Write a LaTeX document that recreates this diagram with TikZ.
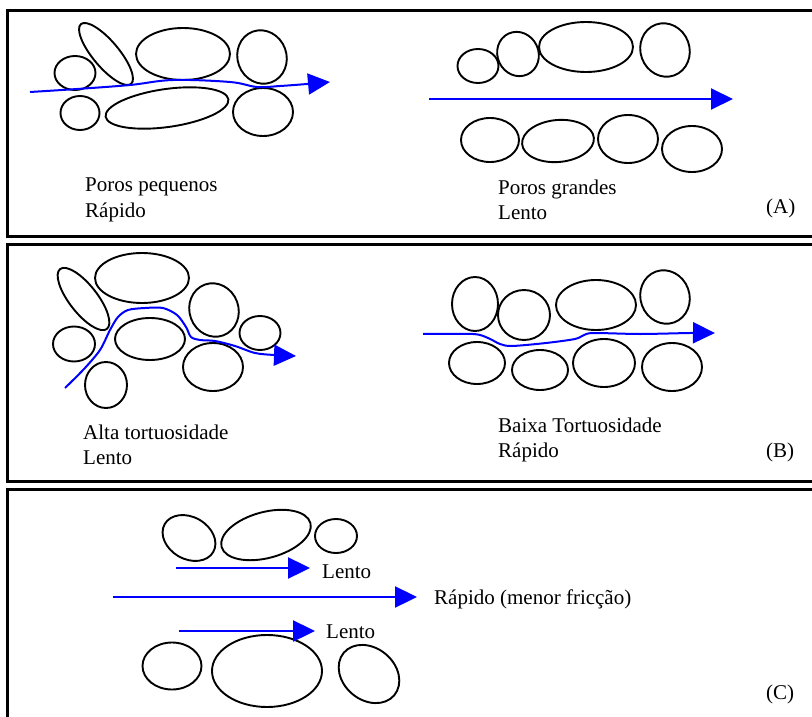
\documentclass[tikz,border=0pt]{standalone}
\usepackage{fontspec}
\setmainfont{Liberation Serif}
\usetikzlibrary{arrows.meta}

% one pore (grain outline): centre x, centre y, x radius, y radius, tilt
\newcommand{\pore}[5]{%
  \draw[pore, rotate around={#5:(#1,#2)}] (#1,#2) ellipse [x radius=#3, y radius=#4];}

\begin{document}
\begin{tikzpicture}[x=1pt, y=-1pt,
  frame/.style={line width=3pt, black},
  pore/.style={line width=1.9pt, black},
  flow/.style={line width=2pt, blue, -{Triangle[length=22pt, width=21pt]}},
  jet/.style={line width=2.4pt, blue, -{Triangle[length=22pt, width=21pt]}},
  lbl/.style={anchor=base west, inner sep=0pt, font=\fontsize{21}{25}\selectfont}]

\useasboundingbox (0,0) rectangle (812,717);
\clip (0,0) rectangle (812,717);

% panel frames (right side runs off the page)
\draw[frame] (7.5,10.5) rectangle (830,236.5);
\draw[frame] (7.5,244.5) rectangle (830,481.5);
\draw[frame] (7.5,489.5) rectangle (830,740);

% ---------- (A) small pores ----------
\pore{75}{73}{20.5}{17}{0}
\pore{106}{54}{39}{13}{-50}
\pore{183}{54}{47}{26}{0}
\pore{262}{57}{24.5}{27}{20}
\pore{80}{113}{19.5}{17}{0}
\pore{167}{108}{62}{19}{8}
\pore{263}{112}{30}{24}{0}
\coordinate (a1s) at (30,92);
\coordinate (a1e) at (330,82);
\draw[flow] plot[smooth, tension=0.6] coordinates
  {(a1s) (77,89) (130,85) (173,80) (230,82) (257,87) (280,86) (307,84) (a1e)};
\node[lbl] (a1t1) at (85,191) {Poros pequenos};
\node[lbl] (a1t2) at (85,217) {Rápido};

% ---------- (A) large pores ----------
\pore{478}{66}{20.5}{17}{0}
\pore{518}{54}{20.5}{22.5}{25}
\pore{586}{47}{47}{25}{0}
\pore{665}{50}{24.5}{27}{20}
\pore{490}{140}{29}{22}{0}
\pore{558}{141}{36}{21}{5}
\pore{628}{139}{30}{24}{0}
\pore{692}{149}{30}{23}{0}
\coordinate (a2s) at (429,99);
\coordinate (a2e) at (733,99);
\draw[flow] (a2s) -- (a2e);
\node[lbl] (a2t1) at (498,194) {Poros grandes};
\node[lbl] (a2t2) at (498,219) {Lento};
\node[lbl] (tagA) at (766,213) {(A)};

% ---------- (B) high tortuosity ----------
\pore{83.5}{299}{38}{14}{-52}
\pore{142}{278}{47}{25}{0}
\pore{214}{310}{24.5}{27}{20}
\pore{260}{333}{20.5}{17}{0}
\pore{74}{344}{21}{17.5}{0}
\pore{150}{339}{35}{21}{0}
\pore{106}{385}{21}{23}{0}
\pore{213}{367}{30}{24}{0}
\coordinate (b1s) at (65,388);
\coordinate (b1e) at (296,356);
\draw[flow] plot[smooth, tension=0.5] coordinates
  {(b1s) (84,369) (100,350) (110,330) (118,317) (128,310) (145,308) (163,308)
   (177,315) (186,327) (191,337) (200,340) (215,341) (235,346) (255,353) (274,355) (b1e)};
\node[lbl] (b1t1) at (83,439) {Alta tortuosidade};
\node[lbl] (b1t2) at (83,464) {Lento};

% ---------- (B) low tortuosity ----------
\pore{475}{304}{23}{27}{0}
\pore{524}{315}{26}{25}{0}
\pore{596}{305}{40}{25}{0}
\pore{665}{297}{24.5}{27}{20}
\pore{477}{363}{28}{21}{0}
\pore{540}{370}{28}{20}{0}
\pore{604}{363}{31}{24}{0}
\pore{672}{367}{30}{24}{0}
\coordinate (b2s) at (423,334);
\coordinate (b2e) at (715,333);
\draw[flow] plot[smooth, tension=0.5] coordinates
  {(b2s) (473,334) (488,338) (500,344) (512,346) (546,343) (575,339) (584,335)
   (594,333) (640,334) (690,333) (b2e)};
\node[lbl] (b2t1) at (498,432) {Baixa Tortuosidade};
\node[lbl] (b2t2) at (498,457) {Rápido};
\node[lbl] (tagB) at (766,457) {(B)};

% ---------- (C) friction near the walls ----------
\pore{189}{538}{28}{21}{-30}
\pore{266}{535}{46}{23}{15}
\pore{336}{536}{21}{17}{0}
\pore{172}{666}{29.5}{23.5}{0}
\pore{267}{671}{55}{36}{0}
\pore{369}{674}{33}{26}{-40}
\coordinate (c1s) at (176,568);
\coordinate (c1e) at (310,568);
\coordinate (c2s) at (113,597);
\coordinate (c2e) at (417,597);
\coordinate (c3s) at (179,631);
\coordinate (c3e) at (315,631);
\draw[jet] (c1s) -- (c1e);
\draw[jet] (c2s) -- (c2e);
\draw[jet] (c3s) -- (c3e);
\node[lbl] (c1t) at (322,578) {Lento};
\node[lbl] (c2t) at (434,604) {Rápido (menor fricção)};
\node[lbl] (c3t) at (326,638) {Lento};
\node[lbl] (tagC) at (766,699) {(C)};

\end{tikzpicture}
\end{document}
